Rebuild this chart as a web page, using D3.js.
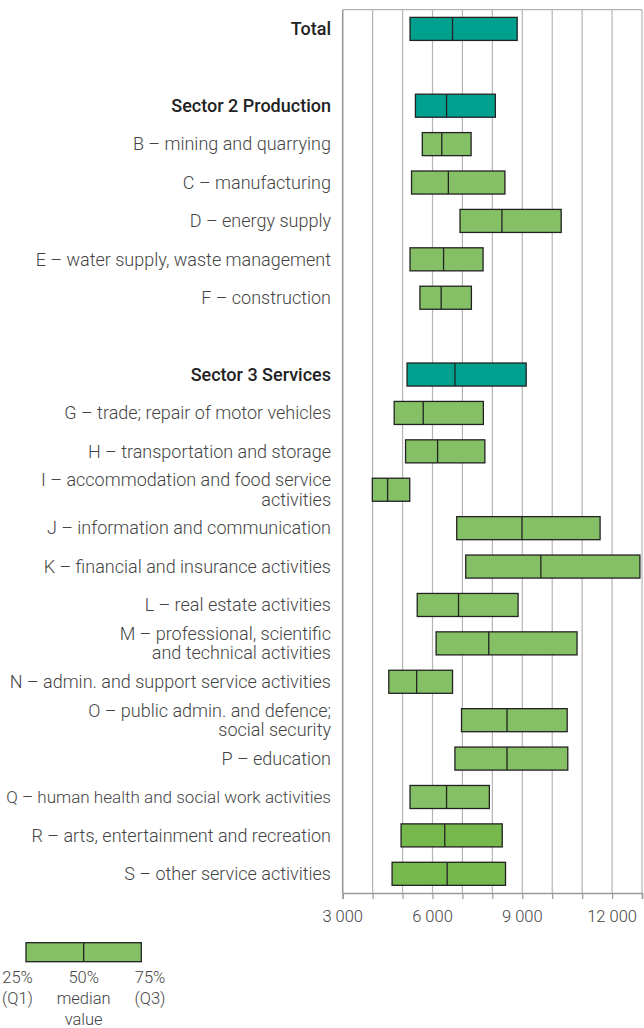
<!DOCTYPE html>
<html>
<head>
<meta charset="utf-8">
<script src="https://cdn.jsdelivr.net/npm/d3@7"></script>
<style>
  body { margin: 0; background: white; }
  svg { display: block; }
</style>
</head>
<body>
<svg width="644" height="1028"></svg>
<script>
// rows top to bottom, null = blank spacer row
const labels = [
  ['Total'], null, ['Sector 2 Production'],
  ['B – mining and quarrying'],
  ['C – manufacturing'],
  ['D – energy supply'],
  ['E – water supply, waste management'],
  ['F – construction'],
  null, ['Sector 3 Services'],
  ['G – trade; repair of motor vehicles'],
  ['H – transportation and storage'],
  ['I – accommodation and food service', 'activities'],
  ['J – information and communication'],
  ['K – financial and insurance activities'],
  ['L – real estate activities'],
  ['M – professional, scientific', 'and technical activities'],
  ['N – admin. and support service activities'],
  ['O – public admin. and defence;', 'social security'],
  ['P – education'],
  ['Q – human health and social work activities'],
  ['R – arts, entertainment and recreation'],
  ['S – other service activities']
]
const kinds = ['agg', null, 'agg', 'a', 'a', 'a', 'a', 'a', null, 'agg',
  'a', 'a', 'a', 'a', 'a', 'a', 'a', 'a', 'a', 'a', 'a', 'b', 'b']
const q1 =  [5250, null, 5430, 5660, 5300, 6920, 5250, 5580, null, 5150,
  4720, 5100, 3990, 6810, 7110, 5490, 6120, 4540, 6970, 6750, 5250, 4950, 4650]
const med = [6670, null, 6470, 6310, 6530, 8320, 6370, 6290, null, 6750,
  5690, 6170, 4500, 8990, 9620, 6870, 7880, 5470, 8490, 8490, 6470, 6410, 6490]
const q3 =  [8830, null, 8100, 7290, 8420, 10300, 7690, 7300, null, 9130,
  7700, 7750, 5240, 11600, 12930, 8860, 10830, 6670, 10500, 10520, 7900, 8330, 8440]
const xTicks = [3000, 6000, 9000, 12000]
const legendText = [['25%', '(Q1)'], ['50%', 'median', 'value'], ['75%', '(Q3)']]

const colors = { agg: '#00a08f', a: '#86c066', b: '#75b84c' }
const fmt = d3.formatLocale({ decimal: '.', thousands: ' ', grouping: [3], currency: ['', ''] }).format(',')

const svg = d3.select('svg')
const plotL = 342.7, plotR = 642, plotT = 9.7, plotB = 893
const labelX = 331, labelSize = 18

const x = d3.scaleLinear().domain([3000, 13000]).range([plotL, plotR])
const y = d3.scaleBand().domain(d3.range(labels.length)).range([plotT, plotB]).paddingInner(0.4).paddingOuter(0.2)

// grid
svg.append('g').selectAll('line')
  .data(d3.range(4000, 13001, 1000))
  .join('line')
  .attr('x1', d => x(d)).attr('x2', d => x(d))
  .attr('y1', plotT).attr('y2', plotB)
  .attr('stroke', '#b4b4b4').attr('stroke-width', 1.2)

svg.append('line').attr('x1', plotL).attr('x2', plotR).attr('y1', plotT).attr('y2', plotT)
  .attr('stroke', '#b4b4b4').attr('stroke-width', 1.2)
svg.append('line').attr('x1', plotL).attr('x2', plotL).attr('y1', plotT).attr('y2', plotB)
  .attr('stroke', '#9a9a9a').attr('stroke-width', 1.6)

// bottom axis
const axis = svg.append('g')
  .attr('transform', `translate(0,${plotB})`)
  .call(d3.axisBottom(x).tickValues(d3.range(3000, 13001, 1000)).tickSize(6).tickFormat(''))
axis.select('.domain').attr('stroke', '#9a9a9a').attr('stroke-width', 1.6)
axis.selectAll('.tick line').attr('stroke', '#9a9a9a').attr('stroke-width', 1.2)
svg.append('g').selectAll('text')
  .data(xTicks)
  .join('text')
  .attr('x', d => x(d)).attr('y', plotB + 28.5)
  .attr('text-anchor', 'middle')
  .attr('font-family', 'Roboto').attr('font-weight', 300)
  .attr('font-size', '16.5px').attr('fill', '#444')
  .text(d => fmt(d))

// boxes
const rows = d3.range(labels.length).filter(i => labels[i] !== null)
const boxes = svg.append('g').selectAll('g')
  .data(rows)
  .join('g')
boxes.append('rect')
  .attr('x', i => x(q1[i]))
  .attr('y', i => y(i))
  .attr('width', i => x(q3[i]) - x(q1[i]))
  .attr('height', y.bandwidth())
  .attr('fill', i => colors[kinds[i]])
  .attr('stroke', '#222').attr('stroke-width', 1.3)
boxes.append('line')
  .attr('x1', i => x(med[i])).attr('x2', i => x(med[i]))
  .attr('y1', i => y(i)).attr('y2', i => y(i) + y.bandwidth())
  .attr('stroke', '#222').attr('stroke-width', 1.3)

// category labels
const lab = svg.append('g').selectAll('text')
  .data(rows)
  .join('text')
  .attr('text-anchor', 'end')
  .attr('font-family', 'Roboto')
  .attr('font-size', labelSize + 'px')
  .attr('font-weight', i => kinds[i] === 'agg' ? 500 : 300)
  .attr('fill', i => kinds[i] === 'agg' ? '#222' : '#444')
lab.selectAll('tspan')
  .data(i => labels[i].map((t, k) => ({ t, k, n: labels[i].length, i })))
  .join('tspan')
  .attr('x', labelX)
  .attr('y', d => y(d.i) + y.bandwidth() / 2 + 6.2 + (d.k - (d.n - 1) / 2) * 19.5)
  .text(d => d.t)
// shrink any label that would run off the left edge
lab.each(function () {
  const w = this.getBBox().width
  const room = labelX - 6
  if (w > room) d3.select(this).attr('font-size', (labelSize * room / w) + 'px')
})

// legend
const lx = d3.scaleLinear().domain([0, 2]).range([26, 141.3])
svg.append('rect')
  .attr('x', lx(0)).attr('y', 942.7)
  .attr('width', lx(2) - lx(0)).attr('height', 19)
  .attr('fill', colors.a).attr('stroke', '#222').attr('stroke-width', 1.3)
svg.append('line')
  .attr('x1', lx(1)).attr('x2', lx(1)).attr('y1', 942.7).attr('y2', 961.7)
  .attr('stroke', '#222').attr('stroke-width', 1.3)
const lt = svg.append('g').selectAll('text')
  .data(legendText)
  .join('text')
  .attr('text-anchor', 'middle')
  .attr('font-family', 'Roboto').attr('font-weight', 300)
  .attr('font-size', '16.5px').attr('fill', '#444')
lt.selectAll('tspan')
  .data((d, i) => d.map((t, k) => ({ t, k, i })))
  .join('tspan')
  .attr('x', d => d.i === 0 ? 17.5 : d.i === 2 ? 150 : lx(1))
  .attr('y', d => 982.5 + d.k * 21)
  .text(d => d.t)
</script>
</body>
</html>
